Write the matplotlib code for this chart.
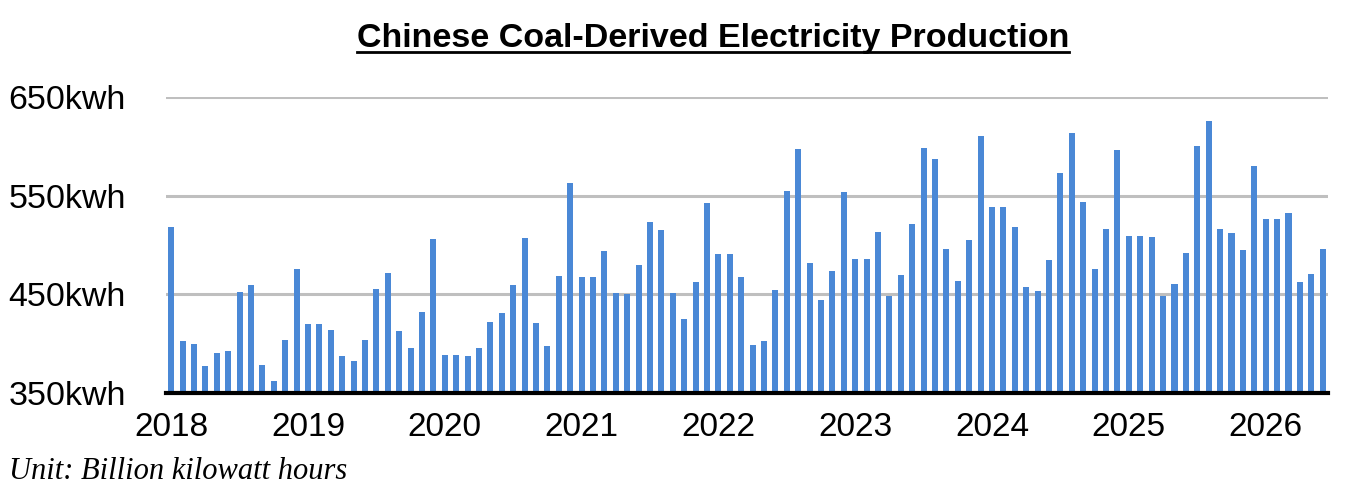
import matplotlib
matplotlib.use("Agg")
import matplotlib.pyplot as plt
from matplotlib.lines import Line2D

# Monthly coal-derived electricity production, Jan 2018 - Jun 2026 (billion kWh)
values = [
    518, 403, 400, 377, 391, 393, 452, 459, 378, 362, 404, 476,   # 2018
    420, 420, 414, 387, 382, 404, 455, 472, 413, 396, 432, 506,   # 2019
    389, 389, 388, 396, 422, 431, 459, 507, 421, 398, 469, 563,   # 2020
    468, 468, 494, 451, 450, 480, 523, 515, 451, 425, 463, 543,   # 2021
    491, 491, 468, 399, 403, 454, 555, 597, 482, 444, 474, 554,   # 2022
    486, 486, 513, 448, 470, 521, 598, 587, 496, 464, 505, 610,   # 2023
    539, 539, 518, 457, 453, 485, 573, 614, 544, 476, 516, 596,   # 2024
    509, 509, 508, 448, 460, 492, 600, 626, 516, 512, 495, 580,   # 2025
    526, 526, 532, 463, 471, 496,                                 # 2026
]
year_labels = ["2018", "2019", "2020", "2021", "2022", "2023", "2024", "2025", "2026"]
y_ticks = [350, 450, 550, 650]
y_tick_labels = ["350kwh", "450kwh", "550kwh", "650kwh"]

title = "Chinese Coal-Derived Electricity Production"
note = "Unit: Billion kilowatt hours"

plt.rcParams['font.family'] = ['Liberation Sans', 'DejaVu Sans']

fig = plt.figure(figsize=(13.5, 5), dpi=100)
ax = fig.add_axes([0.123, 0.214, 0.861, 0.592])

x = list(range(len(values)))
ax.bar(x, [v - 350 for v in values], bottom=350, width=0.53, color="#4a88d6", zorder=3)

ax.set_ylim(350, 650)
ax.set_xlim(-0.45, len(values) - 0.5)
ax.set_yticks(y_ticks)
ax.set_yticklabels(y_tick_labels, fontsize=24.5)
ax.set_xticks([12 * i for i in range(len(year_labels))])
ax.set_xticklabels(year_labels, fontsize=24)
ax.tick_params(axis='both', length=0)
ax.tick_params(axis='y', pad=29)
ax.tick_params(axis='x', pad=14)

for s in ["top", "right", "left"]:
    ax.spines[s].set_visible(False)
ax.spines["bottom"].set_color("black")
ax.spines["bottom"].set_linewidth(3)
ax.spines["bottom"].set_zorder(4)

for yv in [450, 550, 650]:
    ax.axhline(yv, color="#bfbfbf", linewidth=2.2, zorder=1)

t = fig.text(0.528, 0.906, title, ha="center", va="baseline", fontsize=24.5, fontweight="bold")
fig.canvas.draw()
bb = t.get_window_extent()
W, H = fig.get_size_inches() * fig.dpi
uy = 1 - 51.5 / H
fig.add_artist(Line2D([bb.x0 / W, bb.x1 / W], [uy, uy], transform=fig.transFigure,
                      color="black", linewidth=2))

fig.text(0.007, 0.042, note, ha="left", va="baseline", fontsize=22,
         family=["Liberation Serif"], style="italic")

fig.savefig("out.png", dpi=100)
